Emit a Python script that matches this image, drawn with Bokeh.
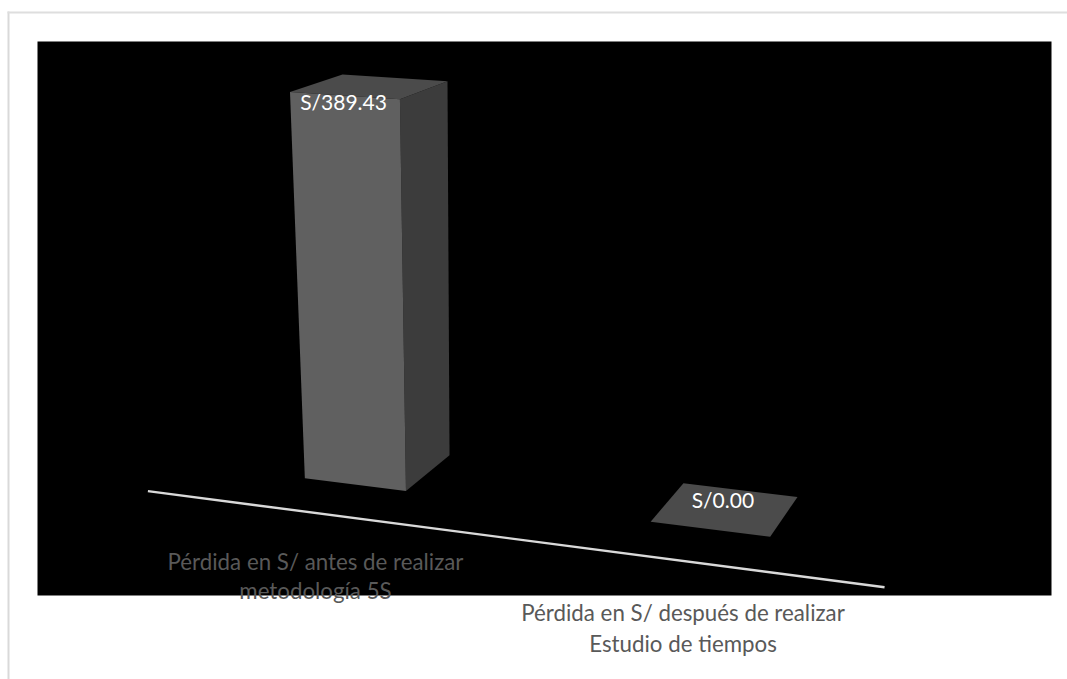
import numpy as np
from bokeh.embed import file_html
from bokeh.models import ColumnDataSource, Range1d
from bokeh.plotting import figure
from bokeh.resources import INLINE
from bokeh.core.properties import value

# ---- chart data ----
categories = [
    ["Pérdida en S/ antes de realizar", "metodología 5S"],
    ["Pérdida en S/ después de realizar", "Estudio de tiempos"],
]
values = [389.43, 0.00]
value_labels = ["S/389.43", "S/0.00"]

# ---- 3D scene: category units across, depth units back, value units up ----
BAR_WIDTHS = [0.30, 0.32]
DEPTH_FRONT, DEPTH_BACK = 0.30, 0.70
SCENE_TOP = 389.43
# camera calibration: scene point -> page pixel
CAMERA = [
    (0.35, DEPTH_FRONT, SCENE_TOP, 290, 92), (0.65, DEPTH_FRONT, SCENE_TOP, 400, 98),
    (0.65, DEPTH_BACK, SCENE_TOP, 447, 81), (0.35, DEPTH_BACK, SCENE_TOP, 341, 74),
    (0.35, DEPTH_FRONT, 0, 302, 479), (0.65, DEPTH_FRONT, 0, 406, 491),
    (0.65, DEPTH_BACK, 0, 451, 453),
    (1.34, DEPTH_FRONT, 0, 650, 522), (1.66, DEPTH_FRONT, 0, 768, 536),
    (1.66, DEPTH_BACK, 0, 797, 497), (1.34, DEPTH_BACK, 0, 683, 483),
    (0.0, 0.0, 0, 148, 490), (2.0, 0.0, 0, 885, 586),
]


def fit_camera(rows):
    a, b = [], []
    for u, d, v, px, py in rows:
        v = v / 400.0
        a.append([u, d, v, 1, 0, 0, 0, 0, -px * u, -px * d, -px * v])
        b.append(px)
        a.append([0, 0, 0, 0, u, d, v, 1, -py * u, -py * d, -py * v])
        b.append(py)
    m = np.linalg.lstsq(np.array(a, float), np.array(b, float), rcond=None)[0]
    return np.append(m, 1.0).reshape(3, 4)


P = fit_camera(CAMERA)


def project(u, d, v):
    h = P @ np.array([u, d, v / 400.0, 1.0])
    return float(h[0] / h[2]), float(h[1] / h[2])


W, H = 1067, 679
p = figure(width=W, height=H, output_backend="svg", toolbar_location=None,
           x_range=Range1d(0, W), y_range=Range1d(H, 0), min_border=0,
           background_fill_color="white", border_fill_color="white",
           outline_line_color=None, x_axis_location=None, y_axis_location=None)
p.grid.visible = False

# outer frame and black plot area
p.line([8, 8], [H, 11], line_color="#D9D9D9", line_width=2)
p.line([7, W], [12, 12], line_color="#DEDEDE", line_width=2)
p.quad(left=[37], right=[1051], top=[41], bottom=[595], fill_color="black", line_color=None)

# bars
FRONT, SIDE, TOP = "#606060", "#3C3C3C", "#4B4B4B"
xs, ys, cols = [], [], []
for i, val in enumerate(values):
    u0, u1 = i + 0.5 - BAR_WIDTHS[i] / 2, i + 0.5 + BAR_WIDTHS[i] / 2
    faces = [
        (SIDE, [(u1, DEPTH_FRONT, 0), (u1, DEPTH_BACK, 0), (u1, DEPTH_BACK, val), (u1, DEPTH_FRONT, val)]),
        (TOP, [(u0, DEPTH_FRONT, val), (u0, DEPTH_BACK, val), (u1, DEPTH_BACK, val), (u1, DEPTH_FRONT, val)]),
        (FRONT, [(u0, DEPTH_FRONT, 0), (u1, DEPTH_FRONT, 0), (u1, DEPTH_FRONT, val), (u0, DEPTH_FRONT, val)]),
    ]
    for col, pts in faces:
        q = [project(*c) for c in pts]
        xs.append([a for a, _ in q])
        ys.append([b for _, b in q])
        cols.append(col)
p.patches("xs", "ys", fill_color="cols", line_color=None,
          source=ColumnDataSource(dict(xs=xs, ys=ys, cols=cols)))

# category axis line
ax = [project(0, 0, 0), project(2, 0, 0)]
p.line([a for a, _ in ax], [b for _, b in ax], line_color="#D9D9D9", line_width=2.4)

# data labels, anchored on the front-top edge of each bar
LABEL_OFFSETS = [(-1, 6), (13, -30)]
lx, ly = [], []
for i, val in enumerate(values):
    x, y = project(i + 0.5, DEPTH_FRONT, val)
    lx.append(x + LABEL_OFFSETS[i][0])
    ly.append(y + LABEL_OFFSETS[i][1])
p.text(lx, ly, text=value_labels, text_color="white", text_font=value("Lato"),
       text_font_size="21px", text_align="center", text_baseline="middle")

# category labels
CAT_POS = [(315, 560.5, 29.5), (682.5, 612, 31)]
tx, ty, tt = [], [], []
for (cx, cy, step), lines in zip(CAT_POS, categories):
    for k, line in enumerate(lines):
        tx.append(cx)
        ty.append(cy + k * step)
        tt.append(line)
p.text(tx, ty, text=tt, text_color="#595959", text_font=value("Lato"),
       text_font_size="22.3px", text_align="center", text_baseline="middle")

open("out.html", "w").write(file_html(p, INLINE))
